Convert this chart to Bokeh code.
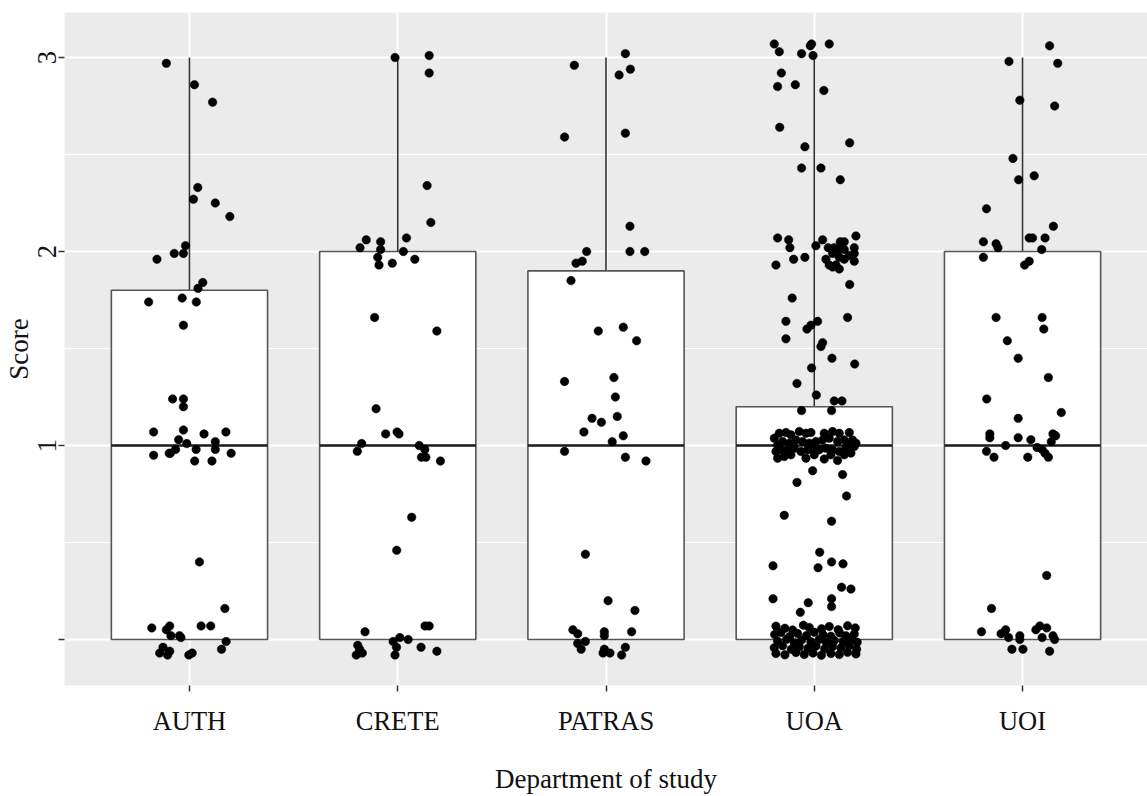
from bokeh.plotting import figure
from bokeh.models import Range1d, FixedTicker, ColumnDataSource
from bokeh.embed import file_html
from bokeh.resources import INLINE

# ---------------- data ----------------
departments = ["AUTH", "CRETE", "PATRAS", "UOA", "UOI"]
box_q1 = [0.0, 0.0, 0.0, 0.0, 0.0]
box_median = [1.0, 1.0, 1.0, 1.0, 1.0]
box_q3 = [1.8, 2.0, 1.9, 1.2, 2.0]
whisker_upper = [3.0, 3.0, 3.0, 3.0, 3.0]
whisker_lower = [0.0, 0.0, 0.0, 0.0, 0.0]
y_ticks = [0, 1, 2, 3]
y_minor = [0.5, 1.5, 2.5]
y_tick_labels = ["", "1", "2", "3"]

# jittered points: horizontal jitter offset (category units) and score
AUTH_jit = [-0.111, 0.024, 0.111, 0.040, 0.019, 0.124, 0.194, -0.019, -0.073, -0.029, -0.156, 0.064, 0.041,
            -0.196, -0.035, 0.033, -0.029, -0.081, -0.029, -0.029, -0.172, -0.029, 0.070, 0.175, -0.052, -0.013,
            0.124, -0.172, -0.097, -0.067, 0.032, 0.124, 0.200, 0.025, 0.108, -0.092, 0.048, 0.170, -0.181, -0.111,
            -0.095, 0.056, 0.102, -0.089, -0.048, -0.041, 0.176, -0.127, -0.095, -0.143, -0.105, -0.003, 0.013, 0.154]
AUTH_score = [2.97, 2.86, 2.77, 2.33, 2.27, 2.25, 2.18, 2.03, 1.99, 1.99, 1.96, 1.84, 1.81, 1.74, 1.76, 1.74, 1.62,
              1.24, 1.24, 1.20, 1.07, 1.08, 1.06, 1.07, 1.03, 1.01, 1.02, 0.95, 0.96, 0.98, 0.98, 0.98, 0.96, 0.92,
              0.92, 0.96, 0.40, 0.16, 0.06, 0.05, 0.07, 0.07, 0.07, 0.02, 0.02, 0.01, -0.01, -0.04, -0.06, -0.07,
              -0.08, -0.08, -0.07, -0.05]

CRETE_jit = [-0.013, 0.151, 0.151, 0.141, 0.159, -0.151, -0.181, -0.082, -0.082, 0.042, 0.027, -0.096, -0.090,
             -0.026, 0.082, -0.111, 0.188, -0.104, -0.058, -0.003, 0.006, -0.173, -0.194, 0.103, 0.130, 0.114,
             0.135, 0.205, 0.067, -0.005, 0.131, 0.151, -0.157, 0.010, -0.022, 0.050, -0.006, -0.192, -0.183,
             -0.199, -0.170, -0.013, 0.112, 0.188]
CRETE_score = [3.00, 3.01, 2.92, 2.34, 2.15, 2.06, 2.02, 2.05, 2.01, 2.07, 2.00, 1.97, 1.93, 1.94, 1.96, 1.66,
               1.59, 1.19, 1.06, 1.07, 1.06, 1.01, 0.97, 1.00, 0.98, 0.94, 0.94, 0.92, 0.63, 0.46, 0.07, 0.07,
               0.04, 0.01, -0.01, 0.00, -0.04, -0.03, -0.05, -0.08, -0.07, -0.08, -0.04, -0.06]

PATRAS_jit = [0.093, -0.152, 0.117, 0.063, 0.093, -0.199, 0.115, -0.093, 0.115, 0.186, -0.114, -0.144, -0.168,
              -0.037, 0.083, 0.147, -0.199, 0.038, 0.045, -0.067, -0.022, 0.054, -0.106, 0.083, 0.030, -0.199,
              0.093, 0.192, -0.099, 0.010, 0.139, -0.159, -0.136, -0.008, -0.008, 0.123, -0.136, -0.099, -0.119,
              -0.008, -0.014, 0.019, 0.093, 0.075]
PATRAS_score = [3.02, 2.96, 2.94, 2.91, 2.61, 2.59, 2.13, 2.00, 2.00, 2.00, 1.95, 1.94, 1.85, 1.59, 1.61, 1.54,
                1.33, 1.35, 1.25, 1.14, 1.12, 1.15, 1.07, 1.05, 1.02, 0.97, 0.94, 0.92, 0.44, 0.20, 0.15, 0.05,
                0.03, 0.04, 0.02, 0.04, -0.02, -0.01, -0.05, -0.05, -0.07, -0.07, -0.04, -0.08]

UOA_jit_high = [-0.192, -0.168, -0.061, -0.019, -0.013, 0.072, -0.006, -0.158, -0.176, -0.091, 0.046, -0.166,
                0.170, -0.045, -0.061, 0.032, 0.125]
UOA_score_high = [3.07, 3.03, 3.02, 3.06, 3.07, 3.07, 3.01, 2.92, 2.85, 2.86, 2.83, 2.64, 2.56, 2.54, 2.43, 2.43,
                  2.37]
UOA_jit_two = [-0.176, 0.200, -0.123, -0.117, 0.008, 0.040, 0.125, 0.144, 0.067, 0.096, 0.120, 0.144, 0.192,
               0.192, 0.088, -0.099, -0.045, -0.184, 0.056, 0.120, 0.192, 0.072, 0.104, 0.120, 0.088, 0.144, 0.168]
UOA_score_two = [2.07, 2.08, 2.06, 2.02, 2.03, 2.06, 2.05, 2.05, 2.02, 2.02, 2.01, 2.01, 2.02, 1.99, 1.99, 1.96,
                 1.97, 1.93, 1.96, 1.97, 1.95, 1.93, 1.93, 1.91, 1.92, 1.96, 1.98]
UOA_jit_mid = [0.170, -0.106, 0.160, -0.136, 0.016, -0.016, -0.035, -0.136, 0.040, 0.032, 0.085, 0.194, -0.013,
               -0.083, 0.010, 0.096, 0.133, -0.061, 0.083]
UOA_score_mid = [1.83, 1.76, 1.66, 1.64, 1.64, 1.62, 1.60, 1.55, 1.53, 1.51, 1.45, 1.42, 1.40,
                 1.32, 1.26, 1.23, 1.23, 1.18, 1.18]
UOA_jit_one = [-0.192, -0.168, -0.136, -0.112, -0.072, -0.040, -0.016, 0.048, 0.088, 0.120, 0.168, 0.200, 0.184,
               -0.176, -0.152, -0.120, -0.088, -0.056, -0.024, 0.008, 0.040, 0.072, 0.112, 0.144, 0.168,
               -0.184, -0.160, -0.128, -0.096, -0.064, -0.032, -0.008, 0.024, 0.056, 0.088, 0.120, 0.152, 0.192,
               -0.176, -0.144, -0.112, -0.040, 0.000, 0.048, 0.080, 0.112, 0.144, 0.176]
UOA_score_one = [1.038, 1.063, 1.067, 1.055, 1.072, 1.063, 1.067, 1.063, 1.072, 1.063, 1.067, 1.012, 1.029,
                 1.003, 1.021, 1.012, 1.029, 1.021, 1.012, 1.021, 1.029, 1.038, 1.021, 1.029, 1.003,
                 0.969, 0.978, 0.978, 0.986, 0.969, 0.978, 0.986, 0.978, 0.986, 0.978, 0.969, 0.986, 0.995,
                 0.935, 0.943, 0.952, 0.935, 0.952, 0.930, 0.952, 0.923, 0.952, 0.961]
UOA_jit_low = [-0.008, 0.136, -0.083, 0.155, -0.144, 0.083, 0.026, -0.198, 0.083, 0.138, 0.018, 0.131, 0.176,
               -0.198, -0.029, 0.083, 0.083, -0.067]
UOA_score_low = [0.87, 0.85, 0.81, 0.74, 0.64, 0.61, 0.45, 0.38, 0.40, 0.39, 0.37, 0.27, 0.26, 0.21, 0.19, 0.21,
                 0.17, 0.14]
UOA_jit_zero = [-0.184, -0.141, -0.104, -0.052, -0.024, 0.035, 0.072, 0.115, 0.160, 0.197,
                -0.190, -0.160, -0.118, -0.080, -0.037, 0.000, 0.043, 0.080, 0.122, 0.152, 0.192,
                -0.176, -0.133, -0.096, -0.061, -0.016, 0.024, 0.058, 0.096, 0.139, 0.176, 0.206,
                -0.192, -0.152, -0.110, -0.072, -0.030, 0.008, 0.050, 0.088, 0.128, 0.168, 0.203,
                -0.184, -0.141, -0.088, -0.048, -0.006, 0.034, 0.080, 0.120, 0.160, 0.200]
UOA_score_zero = [0.069, 0.058, 0.049, 0.074, 0.062, 0.055, 0.067, 0.051, 0.071, 0.060,
                  0.026, 0.036, 0.015, 0.031, 0.021, 0.037, 0.024, 0.017, 0.034, 0.019, 0.028,
                  -0.009, 0.002, -0.016, -0.003, -0.011, 0.000, -0.014, -0.005, -0.009, 0.003, -0.014,
                  -0.043, -0.032, -0.050, -0.038, -0.045, -0.034, -0.048, -0.036, -0.043, -0.031, -0.050,
                  -0.072, -0.079, -0.067, -0.077, -0.070, -0.081, -0.072, -0.077, -0.066, -0.074]
UOA_jit = UOA_jit_high + UOA_jit_two + UOA_jit_mid + UOA_jit_one + UOA_jit_low + UOA_jit_zero
UOA_score = UOA_score_high + UOA_score_two + UOA_score_mid + UOA_score_one + UOA_score_low + UOA_score_zero

UOI_jit = [0.130, -0.065, 0.169, -0.013, 0.154, -0.046, -0.019, 0.056, -0.173, 0.148, -0.188, -0.127, -0.118,
           0.032, 0.048, 0.108, 0.092, -0.188, 0.032, 0.010, -0.127, 0.094, 0.102, -0.073, -0.021, 0.124, -0.172,
           -0.021, 0.186, -0.157, -0.157, -0.021, 0.040, 0.146, 0.159, 0.138, -0.081, 0.070, 0.094, -0.173, 0.108,
           -0.137, 0.025, 0.124, 0.116, -0.149, -0.197, -0.103, -0.081, -0.067, -0.013, -0.013, 0.064, 0.083,
           0.116, 0.146, 0.154, 0.094, -0.051, 0.002, 0.130]
UOI_score = [3.06, 2.98, 2.97, 2.78, 2.75, 2.48, 2.37, 2.39, 2.22, 2.13, 2.05, 2.04, 2.02, 2.07, 2.07, 2.07, 2.01,
             1.97, 1.95, 1.93, 1.66, 1.66, 1.60, 1.54, 1.45, 1.35, 1.24, 1.14, 1.17, 1.06, 1.04, 1.04, 1.03, 1.06,
             1.05, 1.02, 1.00, 0.99, 0.98, 0.97, 0.96, 0.94, 0.94, 0.94, 0.33, 0.16, 0.04, 0.03, 0.05, 0.01, 0.02,
             0.00, 0.05, 0.07, 0.06, 0.02, 0.00, 0.01, -0.05, -0.05, -0.06]

jitters = [AUTH_jit, CRETE_jit, PATRAS_jit, UOA_jit, UOI_jit]
scores = [AUTH_score, CRETE_score, PATRAS_score, UOA_score, UOI_score]

# ---------------- figure ----------------
FONT = "Liberation Serif"
BOX_W = 0.75
X_LO, X_HI = 0.4, 5.6
positions = [i + 1 for i in range(len(departments))]

p = figure(width=1147, height=796, output_backend="svg", toolbar_location=None, tools="",
           x_range=Range1d(X_LO, X_HI), y_range=Range1d(-0.237, 3.232),
           min_border_left=64, min_border_right=0, min_border_top=12, min_border_bottom=110,
           background_fill_color="#EBEBEB", border_fill_color="white", outline_line_color=None)

# axes
p.xaxis.ticker = FixedTicker(ticks=positions, minor_ticks=[])
p.xaxis.major_label_overrides = {pos: name for pos, name in zip(positions, departments)}
p.yaxis.ticker = FixedTicker(ticks=y_ticks, minor_ticks=y_minor)
p.yaxis.major_label_overrides = {t: lab for t, lab in zip(y_ticks, y_tick_labels)}
p.xaxis.axis_label = "Department of study"
p.yaxis.axis_label = "Score"
for ax in (p.xaxis, p.yaxis):
    ax.axis_line_color = None
    ax.major_tick_line_color = "#333333"
    ax.major_tick_line_width = 1.5
    ax.major_tick_out = 6
    ax.major_tick_in = 0
    ax.minor_tick_out = 0
    ax.minor_tick_in = 0
    ax.major_label_text_font = FONT
    ax.major_label_text_font_size = "26.5px"
    ax.major_label_text_color = "#111111"
    ax.axis_label_text_font = FONT
    ax.axis_label_text_font_size = "27px"
    ax.axis_label_text_font_style = "normal"
    ax.axis_label_text_color = "#111111"
p.xaxis.major_label_standoff = 14
p.xaxis.axis_label_standoff = 25
p.yaxis.major_label_orientation = "vertical"
p.yaxis.major_label_standoff = 2
p.yaxis.axis_label_standoff = 2

# grid
p.xgrid.grid_line_color = "white"
p.xgrid.grid_line_width = 2
p.ygrid.grid_line_color = "white"
p.ygrid.grid_line_width = 2
p.ygrid.minor_grid_line_color = "white"
p.ygrid.minor_grid_line_width = 1

# boxplots
box_src = ColumnDataSource(dict(
    x=positions, q1=box_q1, q3=box_q3, med=box_median, up=whisker_upper, lo=whisker_lower,
    x0=[x - BOX_W / 2 for x in positions], x1=[x + BOX_W / 2 for x in positions]))
p.segment(x0="x", x1="x", y0="q3", y1="up", source=box_src, line_color="#333333", line_width=1.6)
p.segment(x0="x", x1="x", y0="lo", y1="q1", source=box_src, line_color="#333333", line_width=1.6)
p.vbar(x="x", width=BOX_W, bottom="q1", top="q3", source=box_src,
       fill_color="white", line_color="#555555", line_width=1.6)
p.segment(x0="x0", x1="x1", y0="med", y1="med", source=box_src, line_color="#1a1a1a", line_width=2.6)

# jittered points
px, py = [], []
for pos, jit, sc in zip(positions, jitters, scores):
    px.extend([pos + j for j in jit])
    py.extend(sc)
p.scatter(px, py, size=8.5, fill_color="black", line_color="black", line_width=0.5)

open("out.html", "w").write(file_html(p, INLINE))
